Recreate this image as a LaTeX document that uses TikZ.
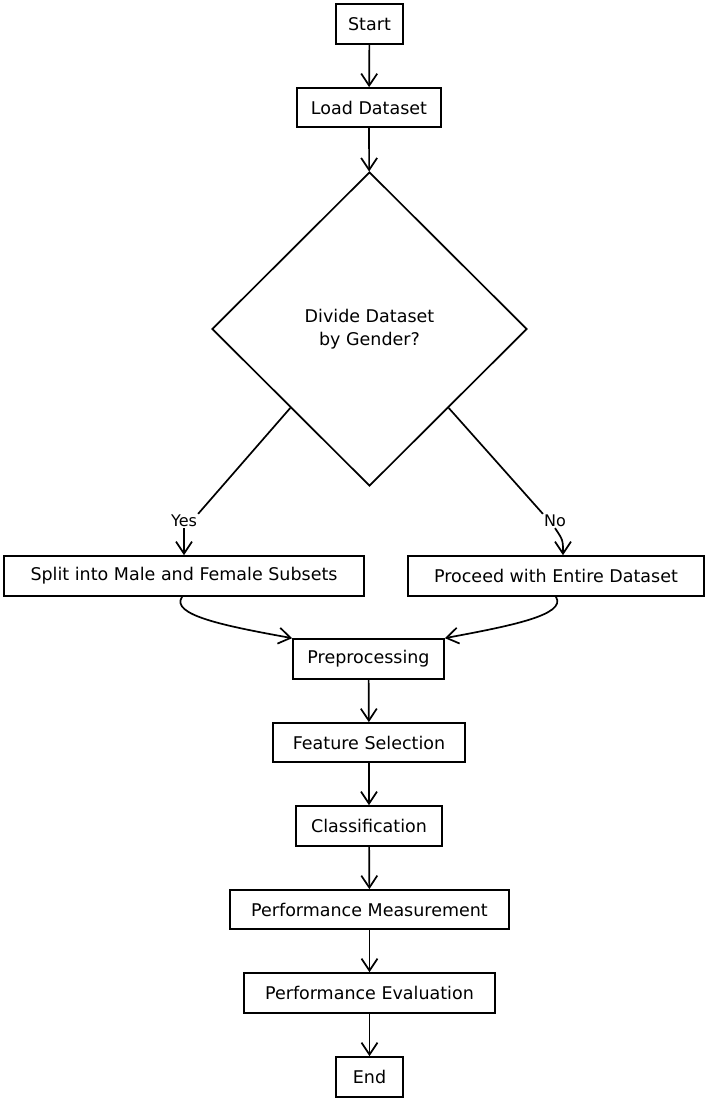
\documentclass[tikz,border=0pt]{standalone}
\usepackage{fontspec}
\setmainfont{DejaVu Sans}
\usetikzlibrary{arrows.meta,shapes.geometric}
\begin{document}
\begin{tikzpicture}[x=1pt,y=-1pt,
  box/.style={draw=black,line width=1.7pt,fill=white,inner sep=0pt,font=\fontsize{17.5}{21}\selectfont,anchor=center},
  arr/.style={draw=black,line width=1.7pt,-{Straight Barb[length=12pt,width=16pt,line width=1.7pt]}},
  lnk/.style={draw=black,line width=1.7pt},
  lbl/.style={inner sep=1pt,font=\fontsize{16}{18}\selectfont}]
\useasboundingbox[fill=white] (0,0) rectangle (706,1102);
\node[box,minimum width=67pt,minimum height=40pt] (start) at (369.5,24) {Start};
\node[box,minimum width=144pt,minimum height=39pt] (load) at (369,107.5) {Load Dataset};
\node[draw=black,line width=1.7pt,diamond,inner sep=0pt,minimum width=315pt,minimum height=314pt,align=center,font=\fontsize{17.5}{23}\selectfont] (div) at (369.5,329) {Divide Dataset\\by Gender?};
\node[lbl] (yes) at (184,521) {Yes};
\node[lbl] (no) at (555,521) {No};
\node[box,minimum width=360pt,minimum height=40pt] (split) at (184,576) {Split into Male and Female Subsets};
\node[box,minimum width=296pt,minimum height=40pt] (proc) at (556,576) {Proceed with Entire Dataset};
\node[box,minimum width=151pt,minimum height=40pt] (pre) at (368.5,659) {Preprocessing};
\node[box,minimum width=192pt,minimum height=39pt] (feat) at (369,742.5) {Feature Selection};
\node[box,minimum width=146pt,minimum height=40pt] (cls) at (369,826) {Classification};
\node[box,minimum width=279pt,minimum height=39pt] (meas) at (369.5,909.5) {Performance Measurement};
\node[box,minimum width=251pt,minimum height=40pt] (eval) at (369.5,993) {Performance Evaluation};
\node[box,minimum width=67pt,minimum height=40pt] (end) at (369.5,1077) {End};
\draw[arr] (start) -- (load);
\draw[arr] (load) -- (div);
\draw[lnk] (div.south west) -- (yes.north east);
\draw[arr] (yes.south) .. controls (184,540) .. (split.north -| yes.south);
\draw[lnk] (div.south east) -- (no.north west);
\draw[arr] (no.south) .. controls (563,540) .. ([xshift=8pt]split.north -| no.south);
\draw[arr] ([xshift=-2pt]split.south) .. controls (170,615) and (225,626) .. (pre.north west);
\draw[arr] (proc.south) .. controls (567,615) and (510,626) .. (pre.north east);
\draw[arr] (pre) -- (feat);
\draw[arr] (feat) -- (cls);
\draw[arr] (cls) -- (meas);
\draw[arr] (meas) -- (eval);
\draw[arr] (eval) -- (end);
\end{tikzpicture}
\end{document}
